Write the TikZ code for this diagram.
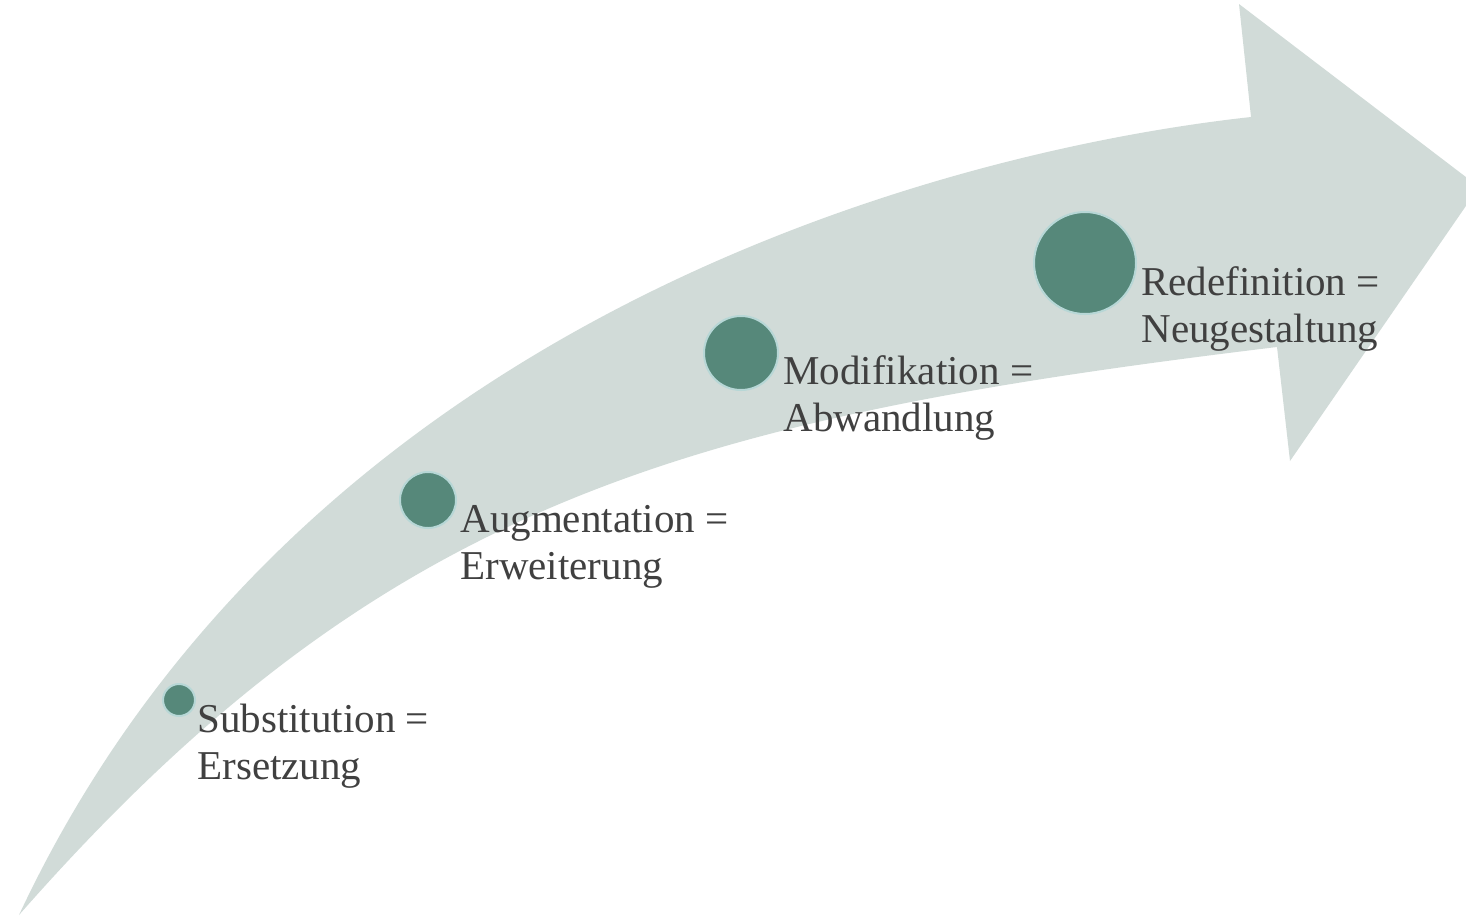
\documentclass[tikz,border=0pt]{standalone}
\usepackage{fontspec}
\setmainfont{Liberation Serif}
\definecolor{arrowgray}{HTML}{D1DBD8}
\definecolor{dotgreen}{HTML}{56887A}
\definecolor{dotrim}{HTML}{B7D7D6}
\definecolor{txtgray}{HTML}{404040}
\begin{document}
\begin{tikzpicture}[x=0.5pt,y=-0.5pt,
  dot/.style={circle,fill=dotgreen,draw=dotrim,line width=1pt,inner sep=0pt},
  lbl/.style={anchor=base west,inner sep=0pt,text=txtgray,
    font=\fontsize{20.5}{23.5}\selectfont}]
\useasboundingbox (0,0) rectangle (1466,917);
\clip (0,0) rectangle (1466,917);
\fill[arrowgray] (19,915) .. controls (300,315) and (950,150) .. (1251,117)
  -- (1239,4) -- (1479,187) -- (1290,461) -- (1277,347)
  .. controls (683,419) and (382,502) .. (19,915) -- cycle;
\node[dot,minimum size=16] (c1) at (179,700) {};
\node[dot,minimum size=28] (c2) at (428,500) {};
\node[dot,minimum size=37] (c3) at (741,353) {};
\node[dot,minimum size=51] (c4) at (1085,263) {};
\node[lbl] (t1) at (197,732) {\begin{tabular}[t]{@{}l@{}}Substitution =\\Ersetzung\end{tabular}};
\node[lbl] (t2) at (460,532) {\begin{tabular}[t]{@{}l@{}}Augmentation =\\Erweiterung\end{tabular}};
\node[lbl] (t3) at (783,384) {\begin{tabular}[t]{@{}l@{}}Modifikation =\\Abwandlung\end{tabular}};
\node[lbl] (t4) at (1141,295) {\begin{tabular}[t]{@{}l@{}}Redefinition =\\Neugestaltung\end{tabular}};
\end{tikzpicture}
\end{document}
